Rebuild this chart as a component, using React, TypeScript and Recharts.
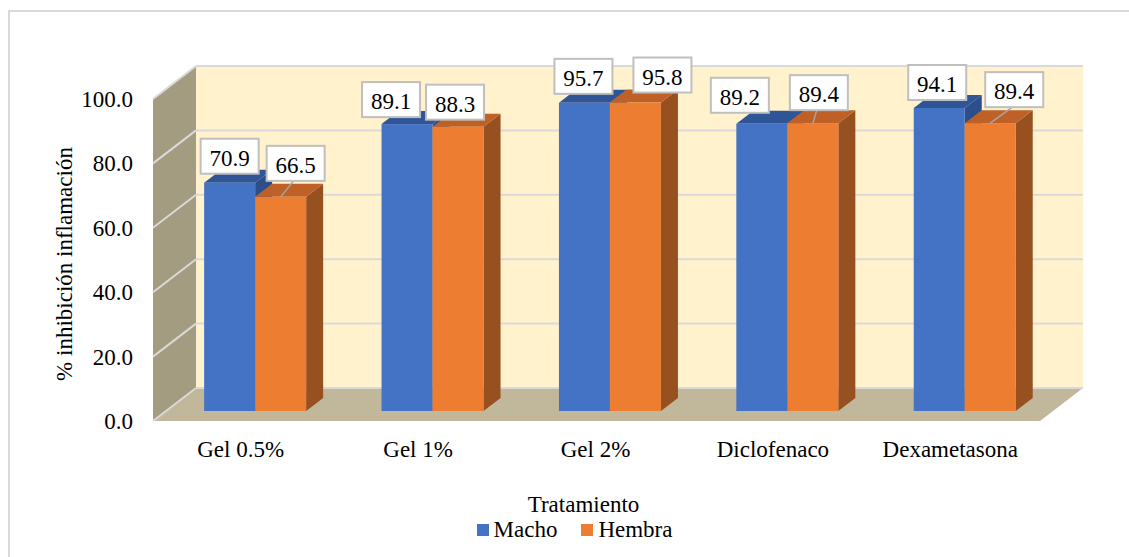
import React from "react";
import { BarChart, Bar, XAxis, YAxis, CartesianGrid, LabelList, Legend } from "recharts";

const TREATMENTS = ["Gel 0.5%", "Gel 1%", "Gel 2%", "Diclofenaco", "Dexametasona"];
const MACHO = [70.9, 89.1, 95.7, 89.2, 94.1];
const HEMBRA = [66.5, 88.3, 95.8, 89.4, 89.4];
const Y_TICKS = [0, 20, 40, 60, 80, 100];
const SERIES = ["Macho", "Hembra"];

const data = TREATMENTS.map((name, i) => ({ name, macho: MACHO[i], hembra: HEMBRA[i] }));

const FONT = '"Liberation Serif", "Times New Roman", serif';
const FS = 23;

// fake 3D: depth of a bar, and where the back wall / front edge sit relative to the bar plane
const BAR_DX = 17;
const BAR_DY = 13;
const BACK_DX = 30;
const BACK_DY = 23;
const FRONT_DX = -13;
const FRONT_DY = 10;

const BLUE = { front: "#4472C4", top: "#2F5597", side: "#2C4E8A" };
const ORANGE = { front: "#ED7D31", top: "#BF6127", side: "#97501F" };

// labels were dragged by hand in the original: [dx from bar centre, gap above bar, leader line]
const MACHO_LABELS: [number, number, boolean][] = [
  [0, 9, false], [-16, 7, false], [-1, 9, false], [-22, 11, false], [-2, 8, false],
];
const HEMBRA_LABELS: [number, number, boolean][] = [
  [15, 16, true], [-3, 7, false], [27, 10, false], [6, 13, true], [24, 16, true],
];

function Box3D(props: any, c: { front: string; top: string; side: string }) {
  const { x, y, width: w, height: h } = props;
  if (h == null || w == null) return <g />;
  const topFace = `${x},${y} ${x + BAR_DX},${y - BAR_DY} ${x + w + BAR_DX},${y - BAR_DY} ${x + w},${y}`;
  const sideFace = `${x + w},${y} ${x + w + BAR_DX},${y - BAR_DY} ${x + w + BAR_DX},${y + h - BAR_DY} ${x + w},${y + h}`;
  return (
    <g>
      <polygon points={sideFace} fill={c.side} />
      <polygon points={topFace} fill={c.top} />
      <rect x={x} y={y} width={w} height={h} fill={c.front} />
    </g>
  );
}

function makeLabel(nudges: [number, number, boolean][]) {
  return function BoxLabel(props: any) {
    const vb = props.viewBox ?? props;
    const { x, y, width } = vb;
    const [dx, gap, leader] = nudges[props.index] ?? [0, 9, false];
    const mid = x + width / 2;
    const cx = mid + dx;
    const bottom = y - gap;
    return (
      <g>
        {leader && (
          <line x1={cx - 2} y1={bottom} x2={mid} y2={y} stroke="#A6A6A6" strokeWidth={1.5} />
        )}
        <rect x={cx - 29} y={bottom - 35} width={58} height={35} fill="#fff" stroke="#BFBFBF" strokeWidth={2} />
        <text x={cx} y={bottom - 8} textAnchor="middle" fontFamily={FONT} fontSize={FS} fill="#000">
          {Number(props.value).toFixed(1)}
        </text>
      </g>
    );
  };
}

function Walls(p: any) {
  if (p.index !== 0) return <g key={p.key} />;
  const { x, y, width: w, height: h } = p;
  const b = y + h;
  const side = `${x + FRONT_DX},${y + FRONT_DY} ${x + BACK_DX},${y - BACK_DY} ${x + BACK_DX},${b - BACK_DY} ${x + FRONT_DX},${b + FRONT_DY}`;
  const floor = `${x + FRONT_DX},${b + FRONT_DY} ${x + BACK_DX},${b - BACK_DY} ${x + w + BACK_DX},${b - BACK_DY} ${x + w + FRONT_DX},${b + FRONT_DY}`;
  return (
    <g key={p.key}>
      <rect x={x + BACK_DX} y={y - BACK_DY} width={w} height={h} fill="#FFF2CC" />
      <polygon points={side} fill="#A39C80" />
      <polygon points={floor} fill="#C1B89B" />
    </g>
  );
}

function GridLine(p: any) {
  const { x1, x2, y1 } = p;
  return (
    <g key={p.key}>
      <line x1={x1 + BACK_DX} y1={y1 - BACK_DY} x2={x2 + BACK_DX} y2={y1 - BACK_DY} stroke="#D9D9D9" strokeWidth={2} />
      <line x1={x1 + FRONT_DX} y1={y1 + FRONT_DY} x2={x1 + BACK_DX} y2={y1 - BACK_DY} stroke="#D9D9D9" strokeWidth={2} />
    </g>
  );
}

function ValueTick({ x, y, payload }: any) {
  return (
    <text x={x + FRONT_DX - 20} y={y + FRONT_DY + 8} textAnchor="end" fontFamily={FONT} fontSize={FS} fill="#000">
      {Number(payload.value).toFixed(1)}
    </text>
  );
}

function CategoryTick({ x, y, payload }: any) {
  return (
    <text x={x + FRONT_DX - 1} y={y + 46} textAnchor="middle" fontFamily={FONT} fontSize={FS} fill="#000">
      {payload.value}
    </text>
  );
}

const yTitle = (props: any) => {
  const vb = props?.viewBox ?? {};
  const right = (vb.x ?? 46) + (vb.width ?? 120);
  const x = right - 94;
  const y = (vb.y ?? 89) + (vb.height ?? 322) / 2 + 14;
  return (
    <text x={x} y={y} transform={`rotate(-90 ${x} ${y})`} textAnchor="middle" fontFamily={FONT} fontSize={FS} fill="#000">
      % inhibición inflamación
    </text>
  );
};

const xTitle = (props: any) => {
  const vb = props?.viewBox ?? {};
  const x = (vb.x ?? 166) + (vb.width ?? 887) / 2 - 26;
  const y = (vb.y ?? 411) + 101;
  return (
    <text x={x} y={y} textAnchor="middle" fontFamily={FONT} fontSize={FS} fill="#000">
      Tratamiento
    </text>
  );
};

function LegendContent({ payload }: any) {
  const items = [...(payload ?? [])].sort(
    (a: any, b: any) => SERIES.indexOf(a.value) - SERIES.indexOf(b.value)
  );
  return (
    <div
      style={{
        display: "flex",
        justifyContent: "center",
        paddingLeft: 44,
        fontFamily: FONT,
        fontSize: FS,
        lineHeight: "22px",
        color: "#000",
      }}
    >
      {items.map((item: any) => (
        <span key={item.value} style={{ display: "flex", alignItems: "center", marginRight: 24 }}>
          <span style={{ width: 12, height: 12, background: item.color, marginRight: 5 }} />
          {item.value}
        </span>
      ))}
    </div>
  );
}

export default function App() {
  return (
    <div
      style={{
        position: "absolute",
        left: 0,
        top: 0,
        width: 1129,
        height: 557,
        background: "#fff",
        overflow: "hidden",
      }}
    >
      <div
        style={{
          position: "absolute",
          left: 8,
          top: 10,
          width: 1140,
          height: 570,
          borderLeft: "2px solid #D9D9D9",
          borderTop: "2px solid #D9D9D9",
        }}
      />
      <BarChart
        width={1129}
        height={557}
        data={data}
        margin={{ top: 89, right: 76, bottom: 116, left: 46 }}
        barGap={0}
        barCategoryGap="21.5%"
      >
        <CartesianGrid vertical={false} horizontal={Walls} syncWithTicks />
        <CartesianGrid vertical={false} horizontal={GridLine} syncWithTicks />
        <XAxis
          dataKey="name"
          height={30}
          interval={0}
          axisLine={false}
          tickLine={false}
          tickSize={0}
          tickMargin={0}
          tick={<CategoryTick />}
          label={xTitle}
        />
        <YAxis
          width={120}
          domain={[0, 100]}
          ticks={Y_TICKS}
          axisLine={false}
          tickLine={false}
          tickSize={0}
          tickMargin={0}
          tick={<ValueTick />}
          label={yTitle}
        />
        <Legend
          verticalAlign="bottom"
          content={<LegendContent />}
          wrapperStyle={{ left: 0, top: 519, width: 1129, height: 0 }}
        />
        <Bar
          dataKey="macho"
          name="Macho"
          fill={BLUE.front}
          isAnimationActive={false}
          shape={(p: any) => Box3D(p, BLUE)}
        >
          <LabelList dataKey="macho" content={makeLabel(MACHO_LABELS)} />
        </Bar>
        <Bar
          dataKey="hembra"
          name="Hembra"
          fill={ORANGE.front}
          isAnimationActive={false}
          shape={(p: any) => Box3D(p, ORANGE)}
        >
          <LabelList dataKey="hembra" content={makeLabel(HEMBRA_LABELS)} />
        </Bar>
      </BarChart>
    </div>
  );
}
